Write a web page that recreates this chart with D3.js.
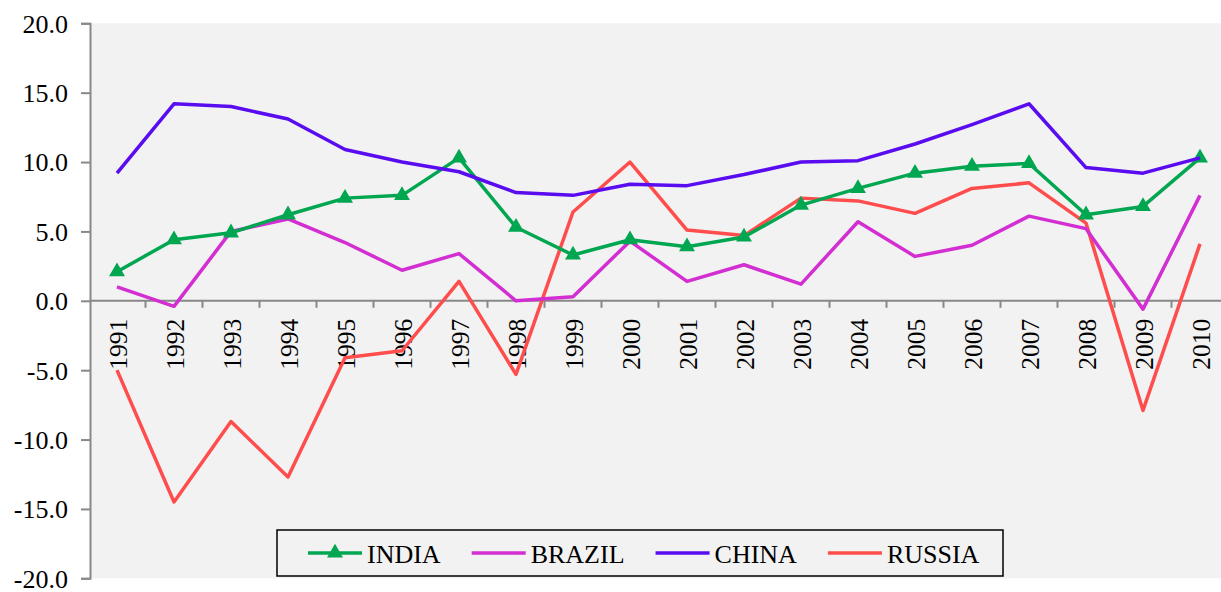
<!DOCTYPE html>
<html>
<head>
<meta charset="utf-8">
<script src="https://cdn.jsdelivr.net/npm/d3@7"></script>
<style>
  html, body { margin: 0; padding: 0; background: #ffffff; }
  svg { display: block; }
  svg text { font-family: "Liberation Serif", "Times New Roman", serif !important; fill: #000; }
</style>
</head>
<body>
<svg id="chart" width="1221" height="592"></svg>
<script>
const years = ["1991","1992","1993","1994","1995","1996","1997","1998","1999","2000",
               "2001","2002","2003","2004","2005","2006","2007","2008","2009","2010"];
const india  = [2.1, 4.4, 4.9, 6.2, 7.4, 7.6, 10.3, 5.3, 3.3, 4.4, 3.9, 4.6, 6.9, 8.1, 9.2, 9.7, 9.9, 6.2, 6.8, 10.3];
const brazil = [1.0, -0.4, 5.0, 5.9, 4.2, 2.2, 3.4, 0.0, 0.3, 4.3, 1.4, 2.6, 1.2, 5.7, 3.2, 4.0, 6.1, 5.2, -0.6, 7.6];
const china  = [9.2, 14.2, 14.0, 13.1, 10.9, 10.0, 9.3, 7.8, 7.6, 8.4, 8.3, 9.1, 10.0, 10.1, 11.3, 12.7, 14.2, 9.6, 9.2, 10.3];
const russia = [-5.0, -14.5, -8.7, -12.7, -4.1, -3.6, 1.4, -5.3, 6.4, 10.0, 5.1, 4.7, 7.4, 7.2, 6.3, 8.1, 8.5, 5.6, -7.9, 4.1];
const yTicks = [20, 15, 10, 5, 0, -5, -10, -15, -20];
const seriesNames = ["INDIA", "BRAZIL", "CHINA", "RUSSIA"];
const seriesColors = ["#00a650", "#d22ed2", "#5a0cf0", "#ff4c4c"];

const series = [india, brazil, china, russia].map((vals, i) => ({
  name: seriesNames[i], color: seriesColors[i], values: vals, marker: i === 0
}));

const svg = d3.select("#chart");
const W = 1221, H = 592;
const plot = { left: 90, top: 23.3, bottom: 578.3 };

const x = d3.scaleBand().domain(years).range([88.5, 1228.5]).paddingInner(0).paddingOuter(0);
const y = d3.scaleLinear().domain([-20, 20]).range([plot.bottom, plot.top]);

svg.append("defs").append("clipPath").attr("id", "clip")
  .append("rect").attr("x", 0).attr("y", 0).attr("width", W).attr("height", H);

// plot background
svg.append("rect")
  .attr("x", plot.left).attr("y", plot.top)
  .attr("width", W - plot.left).attr("height", plot.bottom - plot.top)
  .attr("fill", "#f2f2f2");

// y axis
const fmt = d => d3.format(".1f")(d).replace("\u2212", "-");
const yAxis = d3.axisLeft(y).tickValues(yTicks).tickSize(9).tickPadding(14).tickFormat(fmt);
const gy = svg.append("g").attr("transform", `translate(${plot.left},0)`).call(yAxis);
gy.attr("font-family", null).attr("font-size", null);
gy.select(".domain").attr("stroke", "#888").attr("stroke-width", 2);
gy.selectAll(".tick line").attr("stroke", "#888").attr("stroke-width", 2);
gy.selectAll(".tick text")
  .attr("font-size", 26)
  .attr("dy", "0.34em")
  .attr("x", -22);

// x axis at zero
const gx = svg.append("g").attr("transform", `translate(0,${y(0)})`);
gx.append("line").attr("x1", plot.left).attr("x2", W).attr("y1", 0).attr("y2", 0)
  .attr("stroke", "#888").attr("stroke-width", 2);
const boundaries = years.slice(1).map(yr => x(yr));
gx.selectAll("line.tk").data(boundaries).enter().append("line")
  .attr("class", "tk")
  .attr("x1", d => d).attr("x2", d => d).attr("y1", 0).attr("y2", 7)
  .attr("stroke", "#888").attr("stroke-width", 2);
gx.selectAll("text.yr").data(years).enter().append("text")
  .attr("class", "yr")
  .attr("transform", d => `translate(${x(d) + x.bandwidth() / 2 + 1},18) rotate(-90)`)
  .attr("text-anchor", "end")
  .attr("dy", "0.34em")
  .attr("font-size", 25.5)
  .text(d => d);

// lines
const line = d3.line()
  .x((d, i) => x(years[i]) + x.bandwidth() / 2)
  .y(d => y(d));

const gLines = svg.append("g").attr("clip-path", "url(#clip)");
const order = [3, 1, 0, 2];
order.forEach(k => {
  const s = series[k];
  gLines.append("path")
    .datum(s.values)
    .attr("fill", "none")
    .attr("stroke", s.color)
    .attr("stroke-width", 3.5)
    .attr("stroke-linejoin", "round")
    .attr("d", line);
  if (s.marker) {
    gLines.selectAll("path.mk").data(s.values).enter().append("path")
      .attr("class", "mk")
      .attr("d", d3.symbol().type(d3.symbolTriangle).size(110))
      .attr("transform", (d, i) => `translate(${x(years[i]) + x.bandwidth() / 2},${y(d)})`)
      .attr("fill", s.color);
  }
});

// legend
const lg = svg.append("g");
lg.append("rect")
  .attr("x", 277).attr("y", 530).attr("width", 726).attr("height", 46)
  .attr("fill", "#f2f2f2").attr("stroke", "#000").attr("stroke-width", 1.5);
let cx = 308;
const ly = 553;
series.forEach(s => {
  lg.append("line").attr("x1", cx).attr("x2", cx + 54).attr("y1", ly).attr("y2", ly)
    .attr("stroke", s.color).attr("stroke-width", 3.5);
  if (s.marker) {
    lg.append("path")
      .attr("d", d3.symbol().type(d3.symbolTriangle).size(110))
      .attr("transform", `translate(${cx + 27},${ly})`)
      .attr("fill", s.color);
  }
  const t = lg.append("text").attr("x", cx + 59).attr("y", ly + 10)
    .attr("font-size", 26).text(s.name);
  const w = t.node().getComputedTextLength();
  cx = cx + 59 + w + 31;
});
</script>
</body>
</html>
